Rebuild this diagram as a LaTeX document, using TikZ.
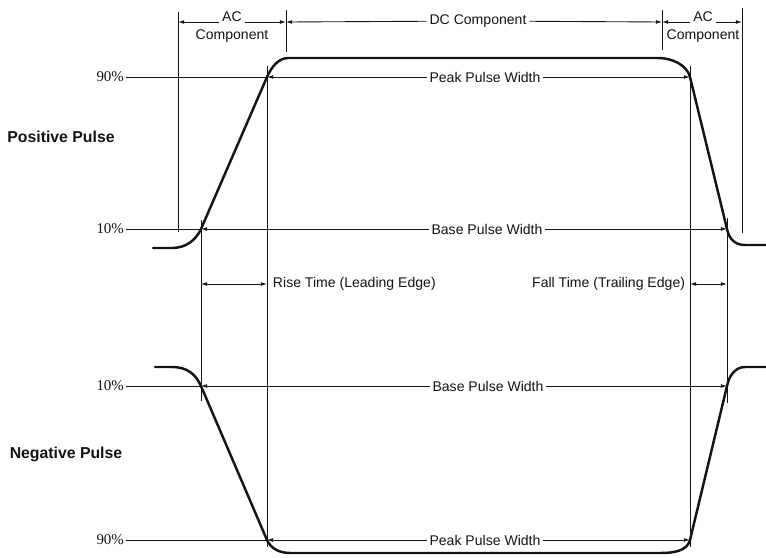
\documentclass[tikz,border=0pt]{standalone}
\usepackage{fontspec}
\setmainfont{Liberation Sans}
\newfontfamily\pctfont{Liberation Serif}
\usepackage{tikz}
\usetikzlibrary{arrows.meta,calc}
\definecolor{InkBlack}{RGB}{20,20,20}
\tikzset{
  pulse/.style={line width=1.4pt,color=InkBlack,line cap=round},
  ext/.style={line width=0.5pt,color=InkBlack},
  dim/.style={line width=0.5pt,color=InkBlack,-{Latex[length=3.5pt,width=2.2pt]}},
  dimboth/.style={line width=0.5pt,color=InkBlack,{Latex[length=3.5pt,width=2.2pt]}-{Latex[length=3.5pt,width=2.2pt]}},
  lbl/.style={font=\fontsize{8}{9}\selectfont,inner sep=1.5pt,text=InkBlack},
  pct/.style={font=\pctfont\fontsize{8.5}{9}\selectfont,inner sep=1pt,anchor=east,text=InkBlack},
  ttl/.style={font=\fontsize{9}{10}\selectfont\bfseries,text=InkBlack}
}

\begin{document}
\begin{tikzpicture}[x=0.02cm,y=-0.02cm]
  \useasboundingbox (0,0) rectangle (766,557);
  % Crossing points (10% / 90%)
  \coordinate (p10l) at (201,229);
  \coordinate (p90l) at (267,77);
  \coordinate (p90r) at (690,77);
  \coordinate (p10r) at (727,229);
  \coordinate (n10l) at (201,386);
  \coordinate (n90l) at (267,540);
  \coordinate (n90r) at (690,540);
  \coordinate (n10r) at (727,386);
  % Positive pulse
  \draw[pulse] (153,248) -- (172,248) .. controls (186,248) and (196,240) .. (p10l)
    -- (p90l) .. controls (271,68) and (278,58) .. (288,58) -- (658,58)
    .. controls (672,58) and (687,65) .. (p90r) -- (p10r)
    .. controls (729,239) and (735,245) .. (745,245) -- (766,245);
  % Negative pulse
  \draw[pulse] (155,367) -- (172,367) .. controls (188,367) and (196,375) .. (n10l)
    -- (n90l) .. controls (271,549) and (280,553) .. (290,553) -- (660,553)
    .. controls (674,553) and (687,551) .. (n90r) -- (n10r)
    .. controls (729,376) and (735,367) .. (745,367) -- (766,367);
  % Extension lines
  \draw[ext] (178,12) -- (178,232);
  \draw[ext] (286,10) -- (286,52);
  \draw[ext] (662,10) -- (662,50);
  \draw[ext] (742,8) -- (742,233);
  \draw[ext] ($(p10l)+(0,-9)$) -- ($(n10l)+(0,15)$);
  \draw[ext] ($(p90l)+(0,-11)$) -- ($(n90l)+(0,7)$);
  \draw[ext] ($(p90r)+(0,-11)$) -- ($(n90r)+(0,7)$);
  \draw[ext] ($(p10r)+(0,-11)$) -- ($(n10r)+(0,17)$);
  % AC / DC components
  \coordinate (acA) at (178,22);
  \coordinate (acB) at (286,22);
  \coordinate (acC) at (662,22);
  \coordinate (acD) at (742,22);
  \node[lbl,anchor=base] (acl) at (232,22) {AC};
  \node[lbl] (acl2) at (232,36) {Component};
  \draw[dim] (acl.base west) -- (acA);
  \draw[dim] (acl.base east) -- (acB);
  \node[lbl] (dc) at (478,21) {DC Component};
  \draw[dim] (dc) -- (acB);
  \draw[dim] (dc) -- (acC);
  \node[lbl,anchor=base] (acr) at (703,22) {AC};
  \node[lbl] (acr2) at (703,36) {Component};
  \draw[dim] (acr.base west) -- (acC);
  \draw[dim] (acr.base east) -- (acD);
  % Pulse titles
  \node[ttl] (pos) at (61,137) {Positive Pulse};
  \node[ttl] (neg) at (66,454) {Negative Pulse};
  % Levels, positive pulse
  \node[pct] (l90p) at (126,77) {90\%};
  \draw[ext] (l90p) -- (p90l);
  \node[lbl] (peakp) at (485,77) {Peak Pulse Width};
  \draw[dim] (peakp) -- (p90l);
  \draw[dim] (peakp) -- (p90r);
  \node[pct] (l10p) at (126,229) {10\%};
  \draw[ext] (l10p) -- (p10l);
  \node[lbl] (basep) at (487,229) {Base Pulse Width};
  \draw[dim] (basep) -- (p10l);
  \draw[dim] (basep) -- (p10r);
  % Rise and fall times
  \coordinate (rl) at (201,284);
  \coordinate (rr) at (267,284);
  \coordinate (fl) at (690,284);
  \coordinate (fr) at (727,284);
  \draw[dimboth] (rl) -- (rr);
  \node[lbl,anchor=west] (rise) at (270,284) {Rise Time (Leading Edge)};
  \draw[dimboth] (fl) -- (fr);
  \node[lbl,anchor=east] (fall) at (688,284) {Fall Time (Trailing Edge)};
  % Levels, negative pulse
  \node[pct] (l10n) at (126,386) {10\%};
  \draw[ext] (l10n) -- (n10l);
  \node[lbl] (basen) at (488,386) {Base Pulse Width};
  \draw[dim] (basen) -- (n10l);
  \draw[dim] (basen) -- (n10r);
  \node[pct] (l90n) at (126,540) {90\%};
  \draw[ext] (l90n) -- (n90l);
  \node[lbl] (peakn) at (485,540) {Peak Pulse Width};
  \draw[dim] (peakn) -- (n90l);
  \draw[dim] (peakn) -- (n90r);
\end{tikzpicture}
\end{document}
